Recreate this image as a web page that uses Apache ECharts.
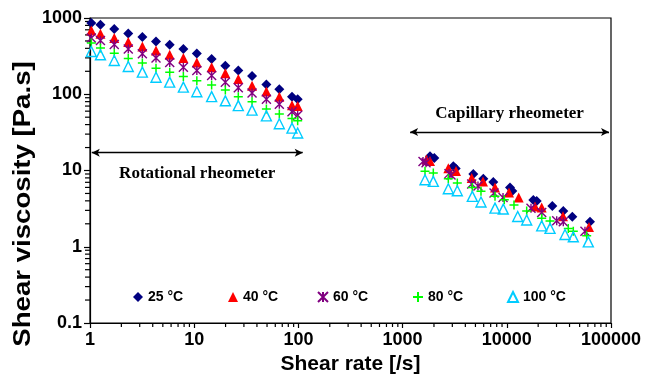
<!DOCTYPE html>
<html>
<head>
<meta charset="utf-8">
<script src="https://cdn.jsdelivr.net/npm/echarts@6/dist/echarts.min.js"></script>
<style>
  html, body { margin: 0; padding: 0; background: #fff; }
  #chart { width: 646px; height: 376px; }
</style>
</head>
<body>
<div id="chart"></div>
<script>
// Shear viscosity vs shear rate, rotational (low rates) and capillary (high rates)
const seriesNames = ['25 °C', '40 °C', '60 °C', '80 °C', '100 °C'];

// Rotational rheometer shear rates [1/s], shared by all temperatures
const rotRate = [1.03, 1.26, 1.71, 2.33, 3.18, 4.30, 5.82, 7.87, 10.6, 14.7, 19.9, 26.5, 35.9, 49.3, 65.6, 86.8, 98.4];
const visc25Rot  = [859, 817, 716, 627, 562, 492, 446, 391, 342, 289, 236, 205, 173, 134, 116, 93, 86];
const visc40Rot  = [687, 621, 546, 483, 423, 375, 329, 298, 261, 226, 189, 159, 129, 109, 93, 72, 70];
const visc60Rot  = [546, 507, 450, 391, 339, 298, 261, 226, 205, 176, 144, 122, 104, 86, 74, 59, 53];
const visc80Rot  = [469, 403, 346, 294, 256, 220, 195, 171, 150, 132, 114, 93, 80, 64, 55, 48, 45];
const visc100Rot = [364, 329, 277, 231, 195, 167, 144, 124, 108, 93, 82, 71, 62, 52, 41, 36, 31];

// Capillary rheometer: shear rates and viscosities per temperature
const rate25Cap  = [1832, 2016, 3067, 3234, 4768, 5953, 7418, 10735, 11290, 17960, 19370, 27350, 34840, 42540, 62850];
const visc25Cap  = [15.4, 14.6, 11.4, 10.6, 9.0, 7.8, 7.06, 6.0, 5.38, 4.10, 3.97, 3.42, 2.94, 2.47, 2.12];
const rate40Cap  = [1695, 1832, 2746, 3254, 4604, 5912, 7706, 10500, 13010, 18650, 21630, 34610, 61480];
const visc40Cap  = [13.95, 13.3, 10.7, 9.85, 7.97, 7.17, 5.98, 5.14, 4.42, 3.37, 3.27, 2.52, 1.81];
const rate60Cap  = [1570, 1678, 2787, 2915, 4604, 5290, 7540, 9200, 17070, 21630, 30130, 34840, 56250];
const visc60Cap  = [13.1, 12.6, 9.1, 8.7, 6.65, 6.26, 5.06, 4.42, 3.19, 2.82, 2.19, 2.12, 1.60];
const rate80Cap  = [1641, 1971, 2746, 3350, 4667, 5653, 7706, 9460, 11720, 15520, 21630, 25990, 38920, 43470, 58430];
const visc80Cap  = [9.76, 9.27, 7.8, 6.85, 6.0, 5.33, 4.58, 4.12, 3.52, 2.94, 2.36, 2.17, 1.74, 1.60, 1.39];
const rate100Cap = [1641, 1971, 2746, 3350, 4667, 5653, 7706, 9250, 12730, 15520, 21630, 25990, 36200, 43470, 60560];
const visc100Cap = [7.57, 7.21, 5.76, 5.43, 4.58, 3.86, 3.21, 3.12, 2.49, 2.24, 1.88, 1.74, 1.45, 1.35, 1.16];

// Measurement-range annotations (data units)
const rotRange = [1.04, 110];
const rotLevel = 17.1;
const capRange = [1180, 95700];
const capLevel = 32;

// Axis extents
const rateMin = 1, rateMax = 100000;
const viscMin = 0.1, viscMax = 1000;

function zip(xs, ys) { return xs.map((x, i) => [x, ys[i]]); }
function points(rotY, capX, capY) { return zip(rotRate, rotY).concat(zip(capX, capY)); }

const data25  = points(visc25Rot,  rate25Cap,  visc25Cap);
const data40  = points(visc40Rot,  rate40Cap,  visc40Cap);
const data60  = points(visc60Rot,  rate60Cap,  visc60Cap);
const data80  = points(visc80Rot,  rate80Cap,  visc80Cap);
const data100 = points(visc100Rot, rate100Cap, visc100Cap);

// 2..9 x 10^k between two decades: positions of the minor log ticks
function minorLogValues(lo, hi) {
  const out = [];
  const e0 = Math.round(Math.log10(lo)), e1 = Math.round(Math.log10(hi));
  for (let e = e0; e < e1; e++) {
    for (let m = 2; m <= 9; m++) out.push(+(m * Math.pow(10, e)).toPrecision(6));
  }
  return out;
}
const xMinorTicks = minorLogValues(rateMin, rateMax).map(v => [v, viscMin]);
const yMinorTicks = minorLogValues(viscMin, viscMax).map(v => [rateMin, v]);

const boldSans = 'Liberation Sans, Arial, sans-serif';
const serif = 'Liberation Serif, Times New Roman, serif';

const starPath = 'path://M0,0L10,10M10,0L0,10M5,0L5,10';
const plusPath = 'path://M5,0L5,10M0,5L10,5';

const chart = echarts.init(document.getElementById('chart'), null, { renderer: 'canvas' });

const annotationLine = {
  silent: true,
  symbol: ['arrow', 'arrow'],
  symbolSize: [6, 8],
  lineStyle: { color: '#000', width: 1.3, type: 'solid' },
  label: {
    show: true,
    formatter: p => p.name,
    fontFamily: serif,
    fontWeight: 'bold',
    fontSize: 17,
    color: '#000'
  },
  data: [
    [
      { name: 'Rotational rheometer', coord: [rotRange[0], rotLevel],
        label: { position: 'insideMiddleBottom', distance: 12 } },
      { coord: [rotRange[1], rotLevel] }
    ],
    [
      { name: 'Capillary rheometer', coord: [capRange[0], capLevel],
        label: { position: 'insideMiddleTop', distance: 10 } },
      { coord: [capRange[1], capLevel] }
    ]
  ]
};

// one legend block per temperature, evenly spaced
const legendCenters = [138, 233, 322, 417, 512];
const legends = seriesNames.map((name, i) => ({
  left: legendCenters[i] - 10,
  top: 285,
  itemWidth: 10,
  itemHeight: 10,
  itemGap: 0,
  selectedMode: false,
  textStyle: { fontFamily: boldSans, fontWeight: 'bold', fontSize: 14, color: '#000' },
  data: [name]
}));

const labelFont = { fontFamily: boldSans, fontWeight: 'bold', fontSize: 18, color: '#000' };

// short tick marks hung off the axis lines
function tickSeries(name, data, size, offset) {
  return {
    name: name, type: 'scatter', data: data,
    symbol: 'rect', symbolSize: size, symbolOffset: offset,
    clip: false, silent: true, z: 1,
    itemStyle: { color: '#000', opacity: 1 },
    emphasis: { disabled: true },
    tooltip: { show: false }
  };
}

const option = {
  animation: false,
  backgroundColor: '#fff',
  grid: {
    left: 90, right: 35, top: 18, bottom: 53,
    outerBoundsMode: 'none',
    show: true, borderColor: '#000', borderWidth: 1.2, backgroundColor: 'transparent'
  },
  legend: legends,
  xAxis: {
    type: 'log',
    logBase: 10,
    min: rateMin,
    max: rateMax,
    name: 'Shear rate [/s]',
    nameLocation: 'middle',
    nameGap: 30,
    nameTextStyle: { fontFamily: boldSans, fontWeight: 'bold', fontSize: 21, color: '#000' },
    axisLine: { onZero: false, lineStyle: { color: '#000', width: 1.2 } },
    axisTick: { show: true, inside: false, length: 5, lineStyle: { color: '#000', width: 1.2 } },
    axisLabel: Object.assign({ margin: 8, formatter: v => String(+(+v).toPrecision(6)) }, labelFont),
    splitLine: { show: false }
  },
  yAxis: {
    type: 'log',
    logBase: 10,
    min: viscMin,
    max: viscMax,
    axisLine: { show: true, onZero: false, lineStyle: { color: '#000', width: 1.2 } },
    axisTick: { show: true, inside: false, length: 6, lineStyle: { color: '#000', width: 1.2 } },
    axisLabel: Object.assign({ margin: 8, formatter: v => String(+(+v).toPrecision(6)) }, labelFont),
    splitLine: { show: false }
  },
  graphic: [
    {
      type: 'text',
      x: 23,
      y: 204,
      rotation: Math.PI / 2,
      scaleX: 1.15,
      style: {
        text: 'Shear viscosity [Pa.s]',
        fontFamily: boldSans,
        fontWeight: 'bold',
        fontSize: 24,
        fill: '#000',
        align: 'center',
        verticalAlign: 'middle'
      },
      silent: true
    }
  ],
  series: [
    tickSeries('xMinor', xMinorTicks, [1.2, 4], [0, 2]),
    tickSeries('yMinor', yMinorTicks, [5, 1.2], [-2.5, 0]),
    {
      name: seriesNames[0], type: 'scatter', data: data25,
      symbol: 'diamond', symbolSize: 10,
      itemStyle: { color: '#000080', opacity: 1 },
      emphasis: { disabled: true },
      markLine: annotationLine
    },
    {
      name: seriesNames[1], type: 'scatter', data: data40,
      symbol: 'triangle', symbolSize: 10,
      itemStyle: { color: '#FF0000', opacity: 1 },
      emphasis: { disabled: true }
    },
    {
      name: seriesNames[2], type: 'scatter', data: data60,
      symbol: starPath, symbolSize: 9,
      itemStyle: { color: '#800080', borderColor: '#800080', borderWidth: 1.4, opacity: 1 },
      emphasis: { disabled: true }
    },
    {
      name: seriesNames[3], type: 'scatter', data: data80,
      symbol: plusPath, symbolSize: 9,
      itemStyle: { color: '#00FF00', borderColor: '#00FF00', borderWidth: 1.5, opacity: 1 },
      emphasis: { disabled: true }
    },
    {
      name: seriesNames[4], type: 'scatter', data: data100,
      symbol: 'triangle', symbolSize: 10,
      itemStyle: { color: 'rgba(255,255,255,0)', borderColor: '#00CCFF', borderWidth: 1.4, opacity: 1 },
      emphasis: { disabled: true }
    }
  ]
};

chart.setOption(option);
</script>
</body>
</html>
